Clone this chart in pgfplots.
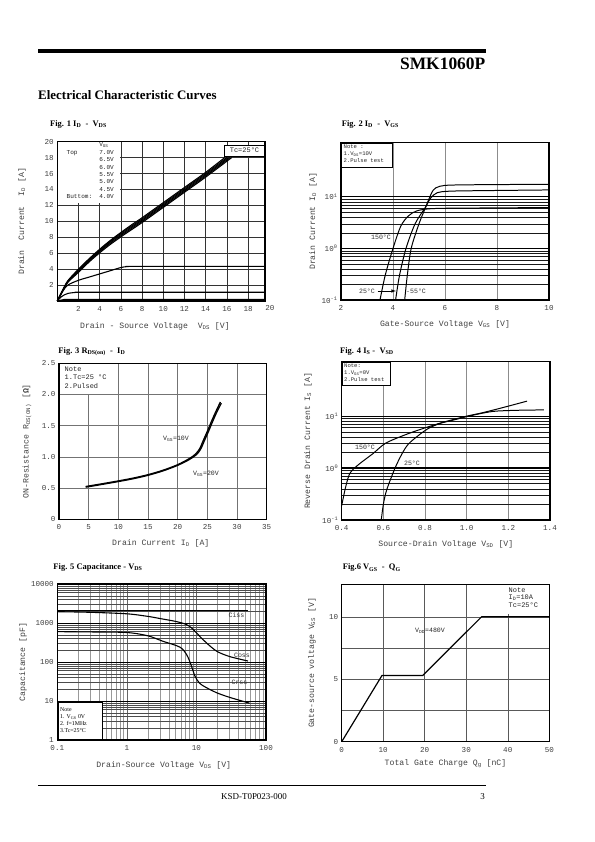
\documentclass[border=0pt]{standalone}
\usepackage{fontspec}
\setmainfont{Liberation Serif}
\setmonofont{Liberation Mono}
\usepackage{pgfplots}
\pgfplotsset{compat=1.18}
\newcommand\tk{\ttfamily\fontsize{7.6}{8}\selectfont}
\newcommand\lb{\ttfamily\fontsize{8.2}{9}\selectfont}
\newcommand\nt{\ttfamily\fontsize{6.1}{7.4}\selectfont}
\newcommand\an{\ttfamily\fontsize{6.6}{8}\selectfont}
\newcommand\ttl{\bfseries\fontsize{8.5}{10}\selectfont}
\pgfplotsset{
  ds/.style={
    scale only axis, anchor=south west, clip=false,
    axis line style={line width=1.1pt},
    tick style={draw=none},
    /pgf/number format/assume math mode=true,
    tick label style={font=\tk, text=black!75},
    label style={font=\lb, text=black!75},
    xticklabel shift=2pt,
    every axis plot/.append style={line width=1.1pt, black, mark=none},
  },
}
\begin{document}
\begin{tikzpicture}[x=1bp,y=1bp]
\useasboundingbox (0,0) rectangle (595bp,842bp);

% ---------------- Fig 1
\begin{axis}[ds, at={(57.3bp,541bp)}, width=207.7bp, height=159.3bp,
  xmin=0, xmax=19.6, ymin=0, ymax=20,
  xtick={2,4,...,18}, ytick={2,4,...,20},
  grid=major, major grid style={black!80, line width=0.4pt},
  xlabel={Drain - Source Voltage\ \ V\textsubscript{DS} [V]},
  ylabel={Drain\ \ Current\ \ I\textsubscript{D} [A]},
  xlabel style={at={(axis description cs:0.47,-0.157)}, anchor=center},
  ylabel style={at={(axis description cs:-0.17,0.5)}, anchor=center},
]
\addplot[smooth] coordinates {(0,0)(0.5,1.35)(1,2.55)(2,4.0)(3,5.3)(4,6.5)(5,7.6)(6,8.6)(7,9.55)(8,10.45)(10,12.35)(12,14.25)(14,16.15)(15.8,18)};
\addplot[smooth] coordinates {(0,0)(0.5,1.3)(1,2.5)(2,3.9)(3,5.2)(4,6.4)(5,7.5)(6,8.5)(7,9.4)(8,10.3)(10,12.2)(12,14.1)(14,16.0)(16.0,18)};
\addplot[smooth] coordinates {(0,0)(0.5,1.28)(1,2.45)(2,3.8)(3,5.1)(4,6.3)(5,7.4)(6,8.35)(7,9.25)(8,10.15)(10,12.05)(12,13.95)(14,15.85)(16.15,18)};
\addplot[smooth] coordinates {(0,0)(0.5,1.25)(1,2.4)(2,3.7)(3,5.0)(4,6.2)(5,7.25)(6,8.2)(7,9.1)(8,10.0)(10,11.9)(12,13.8)(14,15.7)(16.3,18)};
\addplot[smooth] coordinates {(0,0)(0.5,1.22)(1,2.35)(2,3.6)(3,4.9)(4,6.05)(5,7.1)(6,8.05)(7,8.95)(8,9.85)(10,11.75)(12,13.65)(14,15.55)(16.45,18)};
\addplot[smooth] coordinates {(0,0)(0.5,1.2)(1,2.0)(2,2.6)(3,3.0)(4,3.4)(5,3.8)(6,4.2)(6.6,4.32)(7.5,4.35)(19.5,4.35)};
\addplot[smooth] coordinates {(0,0)(0.4,0.55)(1,0.95)(2,1.1)(3,1.1)(19.5,1.1)};
\addplot[smooth] coordinates {(0,0)(0.5,0.15)(1,0.2)(2,0.2)(19.5,0.2)};
\end{axis}

% ---------------- Fig 2
\begin{axis}[ds, at={(341bp,542bp)}, width=208bp, height=157.3bp,
  xmin=2, xmax=10, ymode=log, ymin=0.1, ymax=112,
  xtick={2,4,6,8,10}, ytick={0.1,1,10},
  yticklabels={10\textsuperscript{-1},10\textsuperscript{0},10\textsuperscript{1}},
  xmajorgrids, ymajorgrids, yminorgrids,
  major x grid style={black!45, line width=0.5pt},
  major y grid style={black, line width=1.3pt},
  minor y grid style={black!90, line width=0.45pt},
  xlabel={Gate-Source Voltage V\textsubscript{GS} [V]},
  ylabel={Drain Current I\textsubscript{D} [A]},
  xlabel style={at={(axis description cs:0.5,-0.153)}, anchor=center},
  ylabel style={at={(axis description cs:-0.135,0.5)}, anchor=center},
]
\addplot[smooth, line width=1pt] coordinates {(3.5,0.1)(3.7,0.3)(4.0,1)(4.3,2.7)(4.6,4.3)(4.9,5.3)(5.3,5.8)(6,6.0)(8,6.1)(10,6.2)};
\addplot[smooth, line width=1pt] coordinates {(4.1,0.1)(4.25,0.3)(4.5,1)(4.85,3)(5.25,6.3)(5.45,9.5)(5.7,12)(6.1,12.8)(7,13.1)(10,13.6)};
\addplot[smooth, line width=1pt] coordinates {(4.45,0.1)(4.55,0.3)(4.7,1)(5.0,3)(5.25,6.2)(5.4,9.5)(5.55,13.5)(5.8,16)(6.5,17)(10,17.5)};
\end{axis}

% ---------------- Fig 3
\begin{axis}[ds, at={(59bp,322.7bp)}, width=207.7bp, height=156bp,
  xmin=0, xmax=35, ymin=0, ymax=2.5,
  xtick={0,5,...,35}, ytick={0,0.5,1,1.5,2,2.5},
  yticklabels={0,0.5,1.0,1.5,2.0,2.5},
  grid=major, major grid style={black!55, line width=0.5pt},
  xlabel={Drain Current I\textsubscript{D} [A]},
  ylabel={ON-Resistance R\textsubscript{DS(ON)} [\textbf{Ω}]},
  xlabel style={at={(axis description cs:0.49,-0.152)}, anchor=center},
  ylabel style={at={(axis description cs:-0.154,0.5)}, anchor=center},
]
\addplot[smooth, line width=1.3pt] coordinates {(4.5,0.525)(7,0.565)(10,0.615)(12.5,0.66)(15,0.715)(17.5,0.785)(20,0.875)(22,0.975)(23,1.045)(23.7,1.13)(24.3,1.26)(25,1.41)(25.7,1.57)(26.4,1.72)(27.2,1.88)};
\addplot[smooth, line width=1.3pt] coordinates {(4.5,0.515)(7,0.555)(10,0.605)(12.5,0.65)(15,0.705)(17.5,0.775)(20,0.865)(22,0.96)(23.2,1.04)(23.9,1.13)(24.5,1.26)(25.2,1.41)(25.9,1.57)(26.6,1.72)(27.35,1.86)};
\end{axis}

% ---------------- Fig 4
\begin{axis}[ds, at={(341.7bp,322bp)}, width=208.3bp, height=158.3bp,
  xmin=0.4, xmax=1.4, ymode=log, ymin=0.1, ymax=112,
  xtick={0.4,0.6,0.8,1.0,1.2,1.4}, xticklabels={0.4,0.6,0.8,1.0,1.2,1.4},
  ytick={0.1,1,10},
  yticklabels={10\textsuperscript{-1},10\textsuperscript{0},10\textsuperscript{1}},
  xmajorgrids, ymajorgrids, yminorgrids,
  major x grid style={black!45, line width=0.5pt},
  major y grid style={black, line width=1.3pt},
  minor y grid style={black!90, line width=0.45pt},
  xlabel={Source-Drain Voltage V\textsubscript{SD} [V]},
  ylabel={Reverse Drain Current I\textsubscript{S} [A]},
  xlabel style={at={(axis description cs:0.5,-0.152)}, anchor=center},
  ylabel style={at={(axis description cs:-0.162,0.5)}, anchor=center},
]
\addplot[smooth, line width=1pt] coordinates {(0.4,0.19)(0.42,0.45)(0.44,0.8)(0.48,1.16)(0.55,1.9)(0.61,3)(0.7,4.3)(0.78,5.6)(0.88,7.5)(0.99,9.8)(1.07,11.5)(1.14,13.5)(1.21,16)(1.29,19.5)};
\addplot[smooth, line width=1pt] coordinates {(0.59,0.1)(0.6,0.2)(0.616,0.38)(0.656,1)(0.69,1.9)(0.72,2.9)(0.77,4.3)(0.816,5.8)(0.87,7.2)(0.93,8.3)(1.01,10)(1.08,11.5)(1.14,12.5)(1.25,13)(1.37,13.2)};
\end{axis}

% ---------------- Fig 5
\begin{axis}[ds, at={(57.3bp,102bp)}, width=208.7bp, height=156bp,
  xmode=log, ymode=log, xmin=0.1, xmax=100, ymin=1, ymax=10000,
  xtick={0.1,1,10,100}, xticklabels={0.1,1,10,100},
  ytick={1,10,100,1000,10000}, yticklabels={1,10,100,1000,10000},
  xmajorgrids, ymajorgrids, xminorgrids, yminorgrids,
  major x grid style={black!60, line width=0.5pt},
  minor x grid style={black!40, line width=0.45pt},
  major y grid style={black, line width=0.9pt},
  minor y grid style={black!70, line width=0.45pt},
  xlabel={Drain-Source Voltage V\textsubscript{DS} [V]},
  ylabel={Capacitance [pF]},
  xlabel style={at={(axis description cs:0.51,-0.16)}, anchor=center},
  ylabel style={at={(axis description cs:-0.164,0.5)}, anchor=center},
]
\addplot[line width=1.1pt] coordinates {(0.1,2070)(55,2070)};
\addplot[smooth] coordinates {(0.1,1950)(0.3,1880)(1,1720)(2,1480)(3,1300)(5,1100)(7,930)(8.5,750)(10,560)(12,400)(15,275)(20,185)(30,138)(55,106)};
\addplot[smooth] coordinates {(0.1,600)(0.3,590)(1,570)(2,470)(3.3,340)(5.8,240)(7.3,150)(8.5,78)(9.5,44)(11,29)(13,23.5)(15,20.5)(20,16)(30,12.4)(58,8.8)};
\end{axis}

% ---------------- Fig 6
\begin{axis}[ds, at={(341.7bp,100.3bp)}, width=207.6bp, height=157.4bp,
  xmin=0, xmax=50, ymin=0, ymax=12.6,
  xtick={0,10,...,50}, ytick={0,2.5,5,7.5,10}, yticklabels={0,,5,,10},
  grid=major, major grid style={black!65, line width=0.5pt},
  xlabel={Total Gate Charge Q\textsubscript{g} [nC]},
  ylabel={Gate-source voltage V\textsubscript{GS} [V]},
  xlabel style={at={(axis description cs:0.5,-0.142)}, anchor=center},
  ylabel style={at={(axis description cs:-0.143,0.5)}, anchor=center},
]
\addplot[line width=1.2pt] coordinates {(0,0)(9.7,5.3)(19.5,5.3)(33.7,10)(50,10)};
\end{axis}

% ---------------- page texts and notes (y measured from top)
\begin{scope}[shift={(0,842bp)}, x=1bp, y=-1bp]
  % header / footer
  \draw[line width=4.3bp] (38,51.2) -- (485.5,51.2);
  \node[anchor=base east, inner sep=0, font=\bfseries\fontsize{17.5}{20}\selectfont] at (485.5,70) {SMK1060P};
  \node[anchor=base west, inner sep=0, font=\bfseries\fontsize{13}{15}\selectfont] at (38,100) {Electrical Characteristic Curves};
  \draw[line width=0.9bp] (38,785) -- (485.5,785);
  \node[anchor=base, inner sep=0, font=\fontsize{9}{10}\selectfont] at (254,800) {KSD-T0P023-000};
  \node[anchor=base east, inner sep=0, font=\fontsize{9}{10}\selectfont] at (485,800) {3};

  % titles
  \node[anchor=west, inner sep=0, font=\ttl] at (50,124.5) {Fig. 1 I\textsubscript{D}\ \ -\ \ V\textsubscript{DS}};
  \node[anchor=west, inner sep=0, font=\ttl] at (341.7,124.5) {Fig. 2 I\textsubscript{D}\ \ -\ \ V\textsubscript{GS}};
  \node[anchor=west, inner sep=0, font=\ttl] at (58.3,351.7) {Fig. 3 R\textsubscript{DS(on)}\ \ -\ \ I\textsubscript{D}};
  \node[anchor=west, inner sep=0, font=\ttl] at (340,351.7) {Fig. 4 I\textsubscript{S} -\ \ V\textsubscript{SD}};
  \node[anchor=west, inner sep=0, font=\ttl] at (53.3,567.3) {Fig. 5 Capacitance - V\textsubscript{DS}};
  \node[anchor=west, inner sep=0, font=\ttl] at (342.7,568) {Fig.6 V\textsubscript{GS}\ \ -\ \ Q\textsubscript{G}};

  % Fig 1 legend and notes
  \fill[white] (57.9,142.3) rectangle (120,203.5);
  \node[anchor=north west, align=left, inner sep=0, font=\nt, text=black!85] at (66.5,142.8)
    {\makebox[32.6bp][l]{}V\textsubscript{GS}\\
     \makebox[32.6bp][l]{Top}7.0V\\
     \makebox[32.6bp][l]{}6.5V\\
     \makebox[32.6bp][l]{}6.0V\\
     \makebox[32.6bp][l]{}5.5V\\
     \makebox[32.6bp][l]{}5.0V\\
     \makebox[32.6bp][l]{}4.5V\\
     \makebox[32.6bp][l]{Buttom:}4.0V};
  \draw[line width=0.5pt, fill=white] (224,145) rectangle (264.5,156);
  \node[font=\ttfamily\fontsize{7}{8}\selectfont, text=black!85] at (244.5,150.5) {Tc=25°C};
  \node[font=\tk, text=black!75] at (270,308.3) {20};

  % Fig 2 notes
  \draw[line width=0.4pt, fill=white] (341.6,143.3) rectangle (392,167);
  \node[anchor=north west, align=left, inner sep=0, font=\ttfamily\fontsize{5.6}{7.2}\selectfont, text=black!85] at (343.5,144.3)
    {Note :\\1.V\textsubscript{DS}=10V\\2.Pulse test};
  \node[font=\an, text=black!80] at (381,237) {150°C};
  \node[font=\an, text=black!80] at (367,291) {25°C};
  \draw[-latex, line width=0.6pt] (377.5,291) -- (396,291);
  \node[anchor=west, inner sep=1pt, font=\an, text=black!80] at (405,291) {-55°C};

  % Fig 3 notes
  \fill[white] (59.7,364) rectangle (113,394);
  \node[anchor=north west, align=left, inner sep=0, font=\ttfamily\fontsize{7}{8.6}\selectfont, text=black!85] at (64.5,366.5)
    {Note\\1.Tc=25 °C\\2.Pulsed};
  \node[font=\an, text=black!85] at (176,439) {V\textsubscript{GS}=10V};
  \node[font=\an, text=black!85] at (206,474) {V\textsubscript{GS}=20V};

  % Fig 4 notes
  \draw[line width=0.4pt, fill=white] (342.3,362.3) rectangle (390,385);
  \node[anchor=north west, align=left, inner sep=0, font=\ttfamily\fontsize{5.6}{7.2}\selectfont, text=black!85] at (344,363.3)
    {Note:\\1.V\textsubscript{GS}=0V\\2.Pulse test};
  \node[font=\an, text=black!80] at (365,447) {150°C};
  \node[font=\an, text=black!80] at (412,463) {25°C};

  % Fig 5 notes
  \draw[line width=0.4pt, fill=white] (57.9,702) rectangle (102,739.4);
  \node[anchor=north west, align=left, inner sep=0, font=\fontsize{5.9}{7}\selectfont] at (60,707.5)
    {Note\\1. V\textsubscript{GS} 0V\\2. f=1MHz\\3.Tc=25°C};
  \node[font=\an, text=black!80] at (236.5,615) {Ciss};
  \node[font=\an, text=black!80] at (242,655) {Coss};
  \node[font=\an, text=black!80] at (239.5,682) {Crss};

  % Fig 6 notes
  \fill[white] (506,585) rectangle (548.6,614);
  \node[anchor=north west, align=left, inner sep=0, font=\ttfamily\fontsize{7}{7.6}\selectfont, text=black!85] at (508.5,587.5)
    {Note\\I\textsubscript{D}=10A\\Tc=25°C};
  \node[font=\an, text=black!85] at (430,631) {V\textsubscript{DD}=480V};
\end{scope}
\end{tikzpicture}
\end{document}
